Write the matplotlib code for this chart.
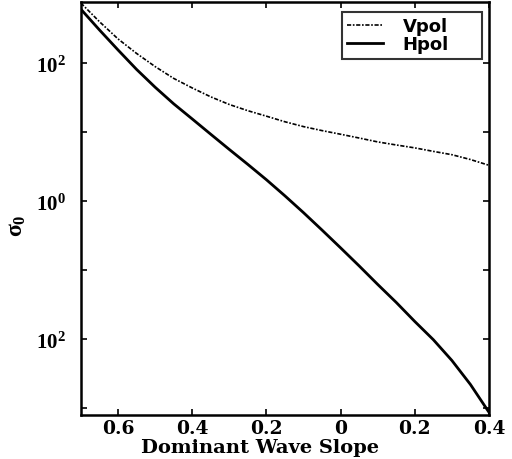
import matplotlib
matplotlib.use("Agg")
import matplotlib.pyplot as plt
import numpy as np

# Dominant wave slope (axis runs from 0.7 down to -0.4)
slope = [0.70, 0.65, 0.60, 0.55, 0.50, 0.45, 0.40, 0.35, 0.30, 0.25, 0.20, 0.15, 0.10,
         0.05, 0.00, -0.05, -0.10, -0.15, -0.20, -0.25, -0.30, -0.35, -0.40]
# sigma_0 values
vpol = [741, 398, 224, 138, 89, 60, 43.6, 32.4, 25.1, 20.4, 17.0, 14.1, 12.0,
        10.5, 9.3, 8.2, 7.2, 6.5, 5.9, 5.25, 4.7, 4.0, 3.3]
hpol = [603, 302, 155, 81, 44.7, 25.7, 15.5, 9.3, 5.6, 3.4, 2.04, 1.19, 0.68,
        0.38, 0.21, 0.115, 0.062, 0.034, 0.018, 0.0098, 0.0049, 0.0022, 0.00087]

xtick_vals = [0.6, 0.4, 0.2, 0.0, -0.2, -0.4]
xtick_labels = ["0.6", "0.4", "0.2", "0", "0.2", "0.4"]
ytick_vals = [1e-3, 1e-2, 1e-1, 1e0, 1e1, 1e2]
ytick_labels = ["", r"$10^{2}$", "", r"$10^{0}$", "", r"$10^{2}$"]

plt.rcParams["mathtext.fontset"] = "custom"
plt.rcParams["mathtext.rm"] = "Liberation Serif:bold"
plt.rcParams["mathtext.it"] = "Liberation Serif:bold"
plt.rcParams["mathtext.bf"] = "Liberation Serif:bold"

fig = plt.figure(figsize=(5.12, 4.60), dpi=100)
ax = fig.add_axes([0.158, 0.0957, 0.797, 0.8978])

ax.plot(slope, vpol, color="black", lw=1.2, linestyle=(0, (2.5, 1, 1, 1)), label="Vpol")
ax.plot(slope, hpol, color="black", lw=2.0, linestyle="-", label="Hpol")

ax.set_yscale("log")
ax.set_xlim(0.7, -0.4)
ax.set_ylim(10 ** -3.10, 10 ** 2.885)

ax.set_xticks(xtick_vals)
ax.set_xticklabels(xtick_labels, fontfamily="DejaVu Serif", fontweight="bold", fontsize=13.5)
ax.set_yticks(ytick_vals)
ax.set_yticklabels(ytick_labels, fontsize=15)
ax.yaxis.set_minor_locator(matplotlib.ticker.NullLocator())

ax.tick_params(axis="both", which="major", direction="in", length=4, width=1.2,
               top=True, right=True)
ax.tick_params(axis="x", pad=3)
ax.tick_params(axis="y", pad=11)

for s in ax.spines.values():
    s.set_linewidth(1.8)

ax.set_xlabel("Dominant Wave Slope", fontfamily="DejaVu Serif", fontweight="bold",
              fontsize=14)
ax.xaxis.set_label_coords(0.44, -0.055)
ax.set_ylabel(r"$\sigma_0$", fontsize=17)
ax.yaxis.set_label_coords(-0.13, 0.46)

leg = ax.legend(loc="upper left", bbox_to_anchor=(0.64, 0.855, 0.343, 0.121), mode="expand",
                frameon=True, fancybox=False, edgecolor="black",
                prop={"family": "DejaVu Sans", "weight": "bold", "size": 13},
                handlelength=1.95, handletextpad=1.1, labelspacing=0.0,
                borderpad=0.3, borderaxespad=0)
leg.get_frame().set_linewidth(1.5)

fig.savefig("out.png", dpi=100)
